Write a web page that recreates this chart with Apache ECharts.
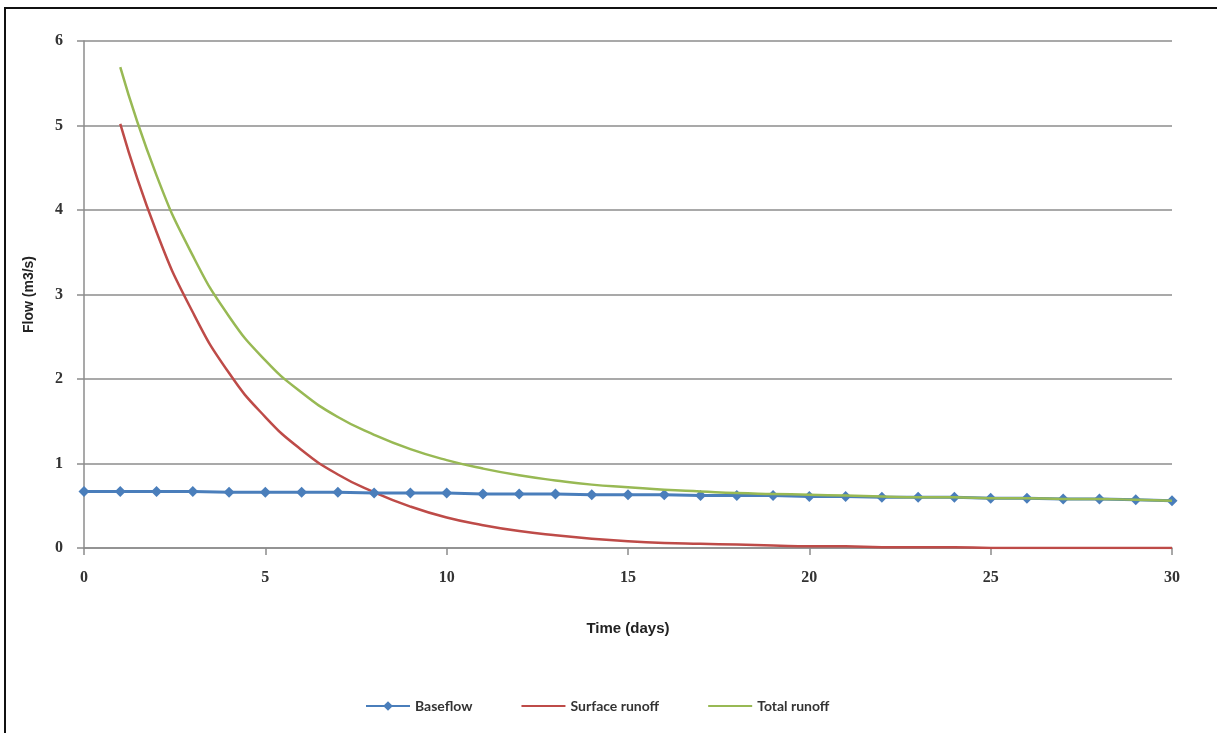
<!DOCTYPE html>
<html>
<head>
<meta charset="utf-8">
<script src="https://cdn.jsdelivr.net/npm/echarts@6/dist/echarts.min.js"></script>
<style>
  html, body { margin: 0; padding: 0; background: #fff; }
  #frame { position: absolute; left: 4px; top: 7px; width: 1213px; height: 726px;
           border-left: 2px solid #111; border-top: 2px solid #111; box-sizing: border-box; }
  #chart { position: absolute; left: 0; top: 0; width: 1217px; height: 733px; }
</style>
</head>
<body>
<div id="frame"></div>
<div id="chart"></div>
<script>
// Time (days)
const days = [0,1,2,3,4,5,6,7,8,9,10,11,12,13,14,15,16,17,18,19,20,21,22,23,24,25,26,27,28,29,30];
// Baseflow (m3/s)
const baseflow = [0.67,0.67,0.67,0.67,0.66,0.66,0.66,0.66,0.65,0.65,0.65,0.64,0.64,0.64,0.63,0.63,0.63,0.62,0.62,0.62,0.61,0.61,0.60,0.60,0.60,0.59,0.59,0.58,0.58,0.57,0.56];
// Surface runoff (m3/s), starts at day 1
const surfaceRunoff = [null,5.02,3.74,2.79,2.07,1.55,1.16,0.87,0.66,0.49,0.36,0.27,0.20,0.15,0.11,0.08,0.06,0.05,0.04,0.03,0.02,0.02,0.01,0.01,0.01,0.00,0.00,0.00,0.00,0.00,0.00];
// Total runoff (m3/s), starts at day 1
const totalRunoff = [null,5.69,4.41,3.46,2.74,2.22,1.84,1.55,1.34,1.17,1.04,0.94,0.86,0.80,0.75,0.72,0.69,0.67,0.65,0.64,0.63,0.62,0.61,0.60,0.60,0.59,0.59,0.58,0.58,0.57,0.56];

const xTicks = [0,5,10,15,20,25,30];
const yTicks = [0,1,2,3,4,5,6];

function pairs(vals) {
  const out = [];
  days.forEach((d, i) => { if (vals[i] !== null) out.push([d, vals[i]]); });
  return out;
}

const chart = echarts.init(document.getElementById('chart'), null, { renderer: 'canvas' });
const tickFont = { fontFamily: 'Liberation Serif', fontWeight: 'bold', fontSize: 16, color: '#333' };

chart.setOption({
  backgroundColor: 'transparent',
  animation: false,
  grid: { left: 84, right: 45, top: 41, bottom: 185 },
  xAxis: {
    type: 'value', min: xTicks[0], max: xTicks[xTicks.length - 1], interval: 5,
    name: 'Time (days)', nameLocation: 'middle', nameGap: 73,
    nameTextStyle: { fontFamily: 'Liberation Sans', fontWeight: 'bold', fontSize: 15, color: '#222' },
    axisLine: { show: true, lineStyle: { color: '#8c8c8c', width: 1.5 } },
    axisTick: { show: true, length: 7, lineStyle: { color: '#8c8c8c', width: 1.5 } },
    axisLabel: Object.assign({ margin: 22 }, tickFont),
    splitLine: { show: false }
  },
  yAxis: {
    type: 'value', min: yTicks[0], max: yTicks[yTicks.length - 1], interval: 1,
    name: 'Flow (m3/s)', nameLocation: 'middle', nameGap: 48, nameRotate: 90,
    nameTextStyle: { fontFamily: 'Liberation Sans', fontWeight: 'bold', fontSize: 14, color: '#222' },
    axisLine: { show: true, lineStyle: { color: '#8c8c8c', width: 1.5 } },
    axisTick: { show: true, length: 7, lineStyle: { color: '#8c8c8c', width: 1.5 } },
    axisLabel: Object.assign({ margin: 21 }, tickFont),
    splitLine: { show: true, lineStyle: { color: '#8c8c8c', width: 1.5 } }
  },
  legend: {
    left: 360, top: 694, itemWidth: 44, itemHeight: 12, itemGap: 48,
    textStyle: { fontFamily: 'Lato', fontSize: 14, fontWeight: 'bold', color: '#333' },
    data: [
      { name: 'Baseflow' },
      { name: 'Surface runoff', itemStyle: { opacity: 0 } },
      { name: 'Total runoff', itemStyle: { opacity: 0 } }
    ]
  },
  series: [
    {
      name: 'Surface runoff', type: 'line', data: pairs(surfaceRunoff), smooth: true,
      showSymbol: false, symbol: 'none',
      lineStyle: { color: '#be4b48', width: 2.5 }, itemStyle: { color: '#be4b48' }, z: 2
    },
    {
      name: 'Baseflow', type: 'line', data: pairs(baseflow),
      symbol: 'diamond', symbolSize: 11, showSymbol: true,
      lineStyle: { color: '#4a7ebb', width: 3 }, itemStyle: { color: '#4a7ebb' }, z: 3
    },
    {
      name: 'Total runoff', type: 'line', data: pairs(totalRunoff), smooth: true,
      showSymbol: false, symbol: 'none',
      lineStyle: { color: '#98b954', width: 2.5 }, itemStyle: { color: '#98b954' }, z: 4
    }
  ]
});
</script>
</body>
</html>
